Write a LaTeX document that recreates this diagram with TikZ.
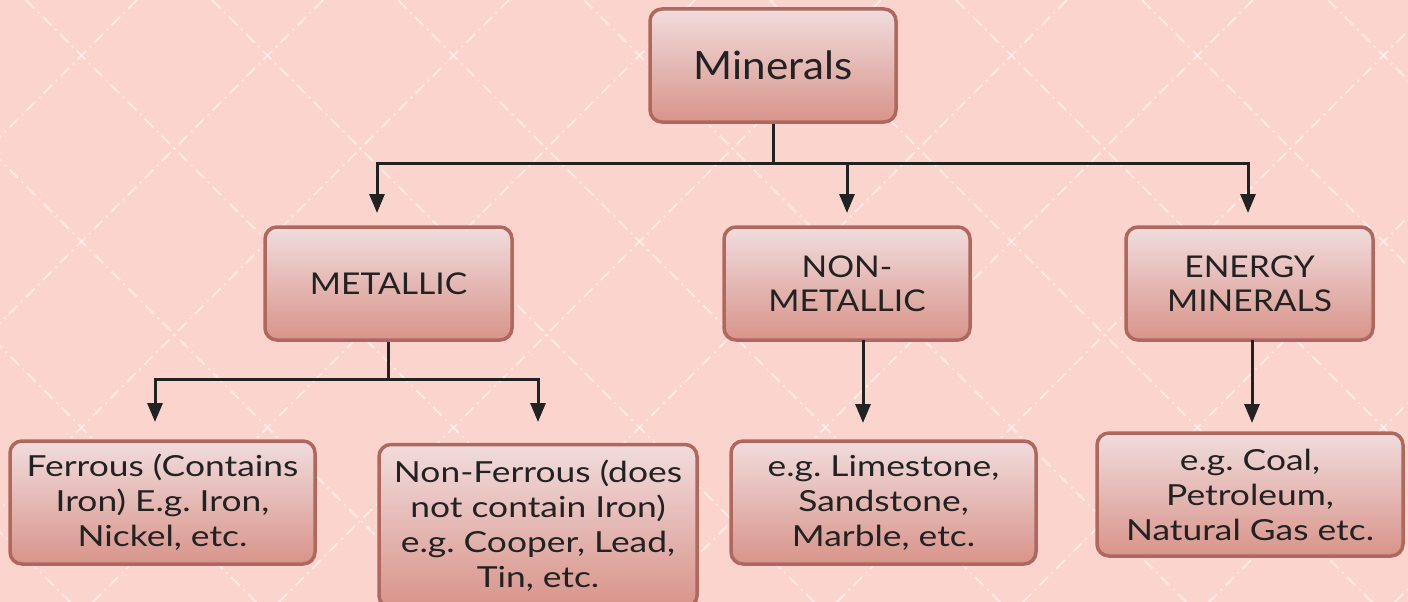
\documentclass[tikz,border=0pt]{standalone}
\usepackage{fontspec}
\setmainfont{Lato}
\newfontfamily\bigf[FakeStretch=1.08]{Lato}
\newfontfamily\midf[FakeStretch=1.12]{Lato}
\newfontfamily\smallf[FakeStretch=1.22]{Lato}
\frenchspacing
\usetikzlibrary{arrows.meta,calc}
\definecolor{bg}{HTML}{FBD5CD}
\definecolor{boxtop}{HTML}{F1DCDD}
\definecolor{boxbot}{HTML}{D8948A}
\definecolor{boxedge}{HTML}{B0675E}
\definecolor{ink}{HTML}{222222}
\tikzset{
  box/.style={rectangle, rounded corners=12pt, draw=boxedge, line width=3.5pt,
    top color=boxtop, bottom color=boxbot, align=center, text=ink, inner sep=0pt},
  bigtxt/.style={font=\bigf\fontsize{39}{47}\selectfont},
  midtxt/.style={font=\midf\fontsize{30}{34}\selectfont},
  smalltxt/.style={font=\smallf\fontsize{29}{35}\selectfont},
  conn/.style={draw=ink, line width=3pt},
  arr/.style={conn, -{Triangle[width=15pt,length=19pt]}},
  pat/.style={white, opacity=0.55, line width=2pt, dash pattern=on 12pt off 5pt on 2pt off 5pt}
}
\begin{document}
\begin{tikzpicture}[x=1pt,y=-1pt]
\fill[bg] (0,0) rectangle (1408,602);
\useasboundingbox (0,0) rectangle (1408,602);
\begin{scope}
\clip (0,0) rectangle (1408,602);
\foreach \k in {-4,...,12} {
  \draw[pat] ({137+186*\k},0) -- ({137+186*\k-700},700);
  \draw[pat] ({28+186*\k-560},0) -- ({28+186*\k-560+700},700);
}
\end{scope}

\node[box,bigtxt,minimum width=246pt,minimum height=113pt] (top) at (773,65.5) {Minerals};
\node[box,midtxt,minimum width=247pt,minimum height=113pt] (met) at (388.5,283.5) {METALLIC};
\node[box,midtxt,minimum width=246pt,minimum height=113pt] (non) at (847,283.5) {NON-\\METALLIC};
\node[box,midtxt,minimum width=247pt,minimum height=113pt] (ene) at (1249.5,283.5) {ENERGY\\MINERALS};
\node[box,smalltxt,minimum width=305pt,minimum height=123pt] (fer) at (162.5,502.5) {Ferrous (Contains\\Iron) E.g. Iron,\\Nickel, etc.};
\node[box,smalltxt,minimum width=318pt,minimum height=163pt] (nfe) at (538,526) {Non-Ferrous (does\\not contain Iron)\\e.g. Cooper, Lead,\\Tin, etc.};
\node[box,smalltxt,minimum width=305pt,minimum height=123pt] (lim) at (883.5,502.5) {e.g. Limestone,\\Sandstone,\\Marble, etc.};
\node[box,smalltxt,minimum width=306pt,minimum height=123pt] (coal) at (1250,494.5) {e.g. Coal,\\Petroleum,\\Natural Gas etc.};

\coordinate (jA) at (773,163);
\coordinate (aMet) at (377,213);
\coordinate (aNon) at (847,213);
\coordinate (aEne) at (1248,213);
\draw[conn] (top.south) -- (jA);
\draw[arr] (jA) -| (aMet);
\draw[arr] (jA) -| (aNon);
\draw[arr] (jA) -| (aEne);

\coordinate (jB) at (388.5,379);
\coordinate (aFer) at (155,422);
\coordinate (aNfe) at (538,422);
\draw[conn] (met.south) -- (jB);
\draw[arr] (jB) -| (aFer);
\draw[arr] (jB) -| (aNfe);

\coordinate (sNon) at (863,340);
\coordinate (aLim) at (863,423);
\draw[arr] (sNon) -- (aLim);
\coordinate (sEne) at (1252,340);
\coordinate (aCoal) at (1252,423);
\draw[arr] (sEne) -- (aCoal);
\end{tikzpicture}
\end{document}
